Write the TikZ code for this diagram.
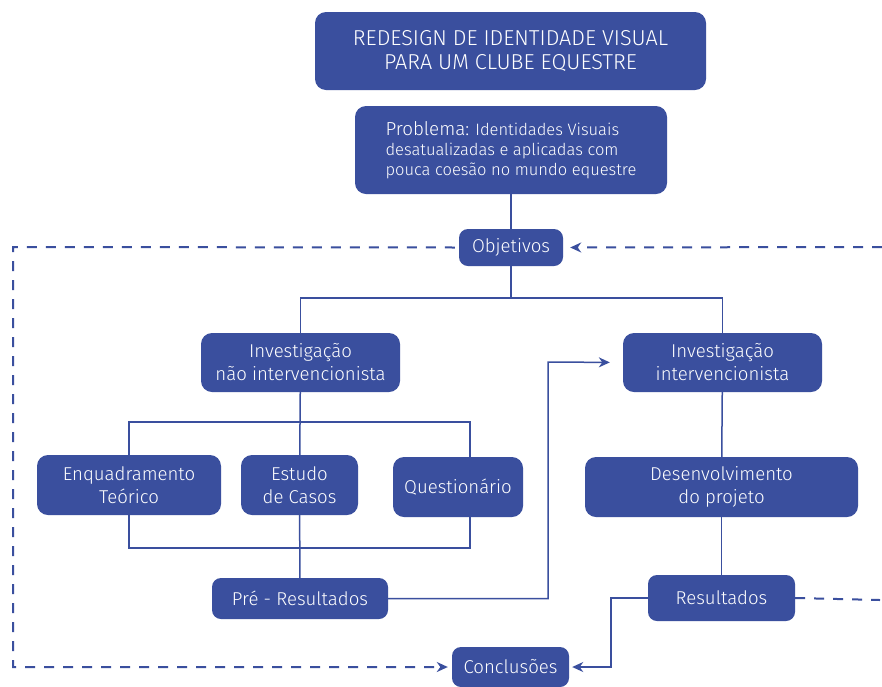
\documentclass[tikz,border=0pt]{standalone}
\usepackage{fontspec}
\setmainfont{Fira Sans}[Ligatures=NoCommon, UprightFont={* Light}]
\usetikzlibrary{arrows.meta}
\definecolor{myblue}{HTML}{3A4F9E}
\tikzset{
  box/.style={rounded corners=11pt, fill=myblue, text=white, align=center, inner sep=0pt, font=\fontsize{18.6}{23}\selectfont},
  conn/.style={draw=myblue, line width=1.5pt},
  arr/.style={-{Stealth[length=11pt,width=10pt,inset=3.5pt]}},
  dsh/.style={draw=myblue, line width=2pt, dash pattern=on 10pt off 9pt},
}
\begin{document}
\begin{tikzpicture}[x=1pt,y=-1pt]
\useasboundingbox[fill=white] (0,0) rectangle (882,686);
\node[box, minimum width=391pt, minimum height=78pt, font=\fontsize{21.6}{24}\selectfont] (title) at (510.5,51) {REDESIGN DE IDENTIDADE VISUAL\\PARA UM CLUBE EQUESTRE};
\node[box, minimum width=312pt, minimum height=88pt, align=left, font=\fontsize{16.5}{20}\selectfont] (prob) at (511,150) {{\fontsize{18.8}{20}\selectfont Problema:} Identidades Visuais\\desatualizadas e aplicadas com\\pouca coesão no mundo equestre};
\node[box, rounded corners=9pt, minimum width=104pt, minimum height=37pt] (obj) at (511,247.5) {Objetivos};
\node[box, minimum width=199pt, minimum height=59pt] (invnao) at (300.5,362.5) {Investigação\\não intervencionista};
\node[box, minimum width=199pt, minimum height=59pt] (invint) at (722.5,362.5) {Investigação\\intervencionista};
\node[box, minimum width=184pt, minimum height=60pt] (enq) at (129,485) {Enquadramento\\Teórico};
\node[box, minimum width=117pt, minimum height=60pt] (est) at (299.5,485) {Estudo\\de Casos};
\node[box, minimum width=130pt, minimum height=60pt] (quest) at (458,487) {Questionário};
\node[box, rounded corners=9pt, minimum width=176pt, minimum height=41pt] (pre) at (300,598.5) {Pré - Resultados};
\node[box, minimum width=273pt, minimum height=60pt] (desen) at (721.5,487) {Desenvolvimento\\do projeto};
\node[box, rounded corners=9pt, minimum width=147pt, minimum height=46pt] (res) at (721.5,598) {Resultados};
\node[box, rounded corners=9pt, minimum width=117pt, minimum height=40pt] (conc) at (510.5,667) {Conclusões};
% coordinates
\coordinate (j1) at (511,298);
\coordinate (qa) at (470,422);
\coordinate (qb) at (470,548);
\coordinate (pk) at (548,362);
\coordinate (rk) at (611,667);
\coordinate (dl) at (13,247);
\coordinate (dr) at (882,247);
\coordinate (dr2) at (880,600);
% solid connectors
\draw[conn] (prob) -- (obj);
\draw[conn] (obj) -- (j1);
\draw[conn] (invnao.north) |- (j1) -| (invint.north);
\draw[conn] (invnao) -- (est);
\draw[conn] (est) -- (pre);
\draw[conn] (enq.north) |- (qa) -- (qa |- quest.north);
\draw[conn] (enq.south) |- (qb) -- (qb |- quest.south);
\draw[conn, arr, shorten >=13pt] (pre.east) -| (pk) -- (invint.west);
\draw[conn] (invint) -- (desen);
\draw[conn] (desen) -- (res);
\draw[conn, arr, shorten >=3pt] (res.west) -| (rk) -- (conc.east);
% dashed connectors
\draw[dsh, arr, shorten <=4pt, shorten >=4pt] (obj.west) -- (dl) |- (conc.west);
\draw[dsh, arr, shorten >=7pt] (dr) -- (obj.east);
\draw[dsh] (res.east) -- (dr2);
\end{tikzpicture}
\end{document}
